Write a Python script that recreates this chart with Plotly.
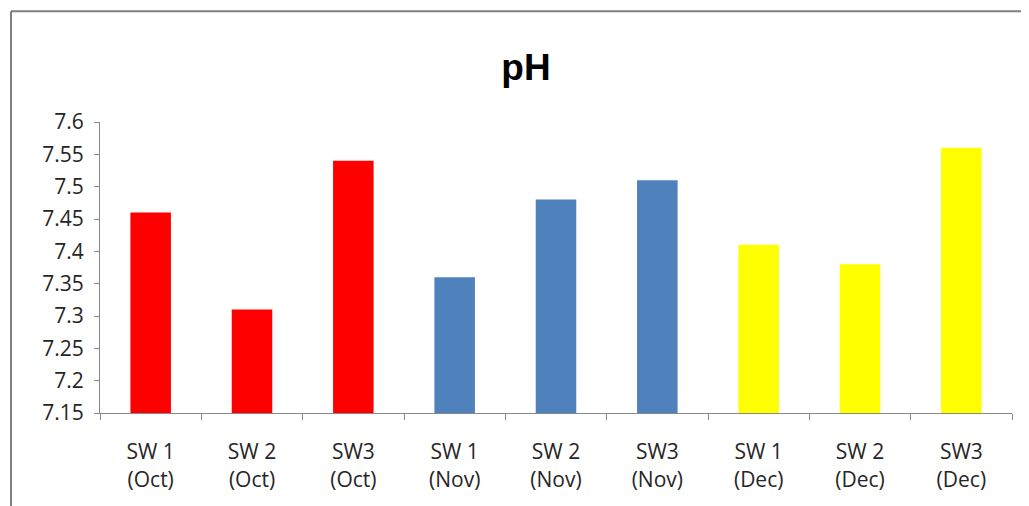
import plotly.graph_objects as go

categories = ["SW 1<br>(Oct)", "SW 2<br>(Oct)", "SW3<br>(Oct)",
              "SW 1<br>(Nov)", "SW 2<br>(Nov)", "SW3<br>(Nov)",
              "SW 1<br>(Dec)", "SW 2<br>(Dec)", "SW3<br>(Dec)"]
ph_values = [7.46, 7.31, 7.54, 7.36, 7.48, 7.51, 7.41, 7.38, 7.56]
bar_colors = ["#FF0000"] * 3 + ["#4F81BD"] * 3 + ["#FFFF00"] * 3
y_ticks = [7.15, 7.2, 7.25, 7.3, 7.35, 7.4, 7.45, 7.5, 7.55, 7.6]
y_tick_labels = ["7.15", "7.2", "7.25", "7.3", "7.35", "7.4", "7.45", "7.5", "7.55", "7.6"]

fig = go.Figure(go.Bar(
    x=categories, y=ph_values, marker=dict(color=bar_colors, line=dict(width=0)),
    width=0.4,
))

fig.update_layout(
    width=1021, height=498,
    margin=dict(l=92, r=17, t=114, b=93),
    paper_bgcolor="white", plot_bgcolor="white",
    font=dict(family="Open Sans, Liberation Sans, sans-serif", size=21, color="#262626"),
    title=dict(text="<b>pH</b>", x=(518 - 92) / 912, xref="paper", xanchor="center",
               y=1 - 59 / 498, yanchor="middle",
               font=dict(size=37, color="black", family="Liberation Sans, Arial, sans-serif")),
    showlegend=False,
)
fig.update_yaxes(
    range=[7.15, 7.6], tickvals=y_ticks, ticktext=y_tick_labels,
    showgrid=False, showline=True, linecolor="#888888", linewidth=1,
    ticks="outside", ticklen=5, tickcolor="#888888", zeroline=False,
    ticklabelstandoff=6,
)
fig.update_xaxes(
    showgrid=False, showline=True, linecolor="#888888", linewidth=1,
    ticks="outside", ticklen=6, tickcolor="#888888", tickson="boundaries",
    ticklabelstandoff=20,
)
# chart border (left and top)
fig.add_shape(type="line", xref="paper", yref="paper",
              x0=-0.0976, x1=-0.0976, y0=1.381, y1=-0.33,
              line=dict(color="#7f7f7f", width=2))
fig.add_shape(type="line", xref="paper", yref="paper",
              x0=-0.0976, x1=1.03, y0=1.381, y1=1.381,
              line=dict(color="#7f7f7f", width=2))

fig.write_html("out.html")
